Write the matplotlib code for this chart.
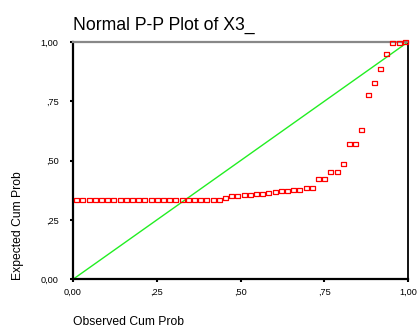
import matplotlib
matplotlib.use('Agg')
import matplotlib.pyplot as plt

plt.rcParams['font.family'] = ['Liberation Sans', 'DejaVu Sans']

# observed vs expected cumulative probabilities of X3_
observed = [0.0093, 0.0278, 0.0463, 0.0648, 0.0833, 0.1019, 0.1204, 0.1389, 0.1574,
            0.1759, 0.1944, 0.2130, 0.2315, 0.2500, 0.2685, 0.2870, 0.3056, 0.3241,
            0.3426, 0.3611, 0.3796, 0.3981, 0.4167, 0.4352, 0.4537, 0.4722, 0.4907,
            0.5093, 0.5278, 0.5463, 0.5648, 0.5833, 0.6019, 0.6204, 0.6389, 0.6574,
            0.6759, 0.6944, 0.7130, 0.7315, 0.7500, 0.7685, 0.7870, 0.8056, 0.8241,
            0.8426, 0.8611, 0.8796, 0.8981, 0.9167, 0.9352, 0.9537, 0.9722, 0.9907]
expected = [0.336, 0.336, 0.336, 0.336, 0.336, 0.336, 0.336, 0.336, 0.336,
            0.336, 0.336, 0.336, 0.336, 0.336, 0.336, 0.336, 0.336, 0.336,
            0.336, 0.336, 0.336, 0.336, 0.336, 0.336, 0.343, 0.350, 0.350,
            0.354, 0.354, 0.358, 0.358, 0.362, 0.367, 0.372, 0.372, 0.376,
            0.376, 0.383, 0.383, 0.424, 0.424, 0.451, 0.453, 0.487, 0.570,
            0.570, 0.631, 0.778, 0.826, 0.886, 0.949, 0.997, 0.997, 1.000]

ticks = [0, 0.25, 0.5, 0.75, 1.0]
tick_labels = ['0,00', ',25', ',50', ',75', '1,00']

W, H = 419, 329
fig = plt.figure(figsize=(W / 100, H / 100), dpi=100)
ax = fig.add_axes([73 / W, 49.7 / H, 335 / W, 237.3 / H])

# reference diagonal
ax.plot([0, 1], [0, 1], color='#22ee22', lw=1.0, zorder=2)

# hollow rectangles, a bit wider than tall
rect = [(-1, -0.72), (1, -0.72), (1, 0.72), (-1, 0.72), (-1, -0.72)]
ax.plot(observed, expected, ls='none', marker=rect, markersize=3.6,
        markerfacecolor='none', markeredgecolor='#ff0000', markeredgewidth=0.9,
        clip_on=False, zorder=3)

ax.set_xlim(0, 1)
ax.set_ylim(0, 1)
ax.set_xticks(ticks)
ax.set_xticklabels(tick_labels)
ax.set_yticks(ticks)
ax.set_yticklabels(tick_labels)
ax.tick_params(axis='both', direction='out', length=2.5, width=1.5, labelsize=6.6)
ax.tick_params(axis='y', pad=8)
ax.tick_params(axis='x', pad=3.5)

for side in ['left', 'bottom']:
    ax.spines[side].set_linewidth(1.6)
    ax.spines[side].set_color('black')
ax.spines['right'].set_linewidth(1.3)
ax.spines['right'].set_color('black')
ax.spines['top'].set_linewidth(1.6)
ax.spines['top'].set_color('#888888')

fig.text(73 / W, 1 - 30 / H, 'Normal P-P Plot of X3_', fontsize=12.7,
         ha='left', va='baseline')
fig.text(73 / W, 1 - 321.7 / H, 'Observed Cum Prob', fontsize=8.7,
         ha='left', va='center')
fig.text(18 / W, 1 - 280 / H, 'Expected Cum Prob', fontsize=8.7,
         rotation=90, ha='center', va='bottom')

fig.savefig('out.png', dpi=100)
